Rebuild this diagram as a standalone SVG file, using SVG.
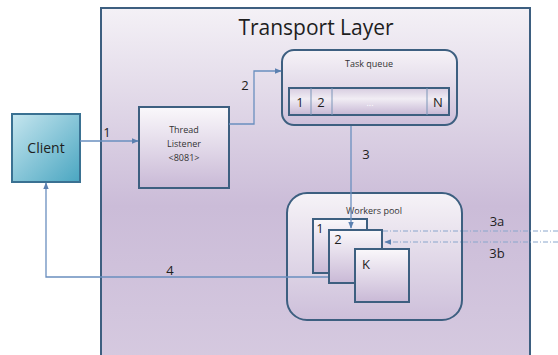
<svg xmlns="http://www.w3.org/2000/svg" width="558" height="355" viewBox="0 0 558 355">
<defs>
  <linearGradient id="gLayer" x1="0" y1="0" x2="0" y2="1">
    <stop offset="0" stop-color="#f4f1f6"/>
    <stop offset="0.55" stop-color="#cbbcd8"/>
    <stop offset="1" stop-color="#d6cae0"/>
  </linearGradient>
  <linearGradient id="gClient" x1="0" y1="0" x2="1" y2="1">
    <stop offset="0" stop-color="#c6e6ef"/>
    <stop offset="1" stop-color="#4aa6c1"/>
  </linearGradient>
  <linearGradient id="gNode" x1="0" y1="0" x2="0" y2="1">
    <stop offset="0" stop-color="#faf8fb"/>
    <stop offset="1" stop-color="#c9b9d6"/>
  </linearGradient>
  <linearGradient id="gPool" x1="0" y1="0" x2="0" y2="1">
    <stop offset="0" stop-color="#f6f3f7"/>
    <stop offset="1" stop-color="#cdbfda"/>
  </linearGradient>
  <linearGradient id="gBar" x1="0" y1="0" x2="0" y2="1">
    <stop offset="0" stop-color="#d7cce0"/>
    <stop offset="0.4" stop-color="#f1edf4"/>
    <stop offset="1" stop-color="#c6b6d4"/>
  </linearGradient>
  <marker id="arr" viewBox="0 0 10 10" refX="9" refY="5" markerWidth="7" markerHeight="7" markerUnits="userSpaceOnUse" orient="auto">
    <path d="M0,1 L10,5 L0,9 z" fill="#5b80b0"/>
  </marker>
  <style>
    .box{stroke:#3d5f80;stroke-width:2;}
    .con{fill:none;stroke:#6a8fbf;stroke-width:1.3;}
    .dash{fill:none;stroke:#8aa6cc;stroke-width:1;stroke-dasharray:5 2 1 2;}
    text{font-family:"Open Sans","Liberation Sans",sans-serif;fill:#1e1e1e;}
    .lbl{font-size:13px;}
    .small{font-size:9px;fill:#333;}
  </style>
</defs>

<g id="transport-layer">
  <rect class="box" x="101" y="8" width="429" height="360" fill="url(#gLayer)"/>
  <text x="316" y="35" font-size="21" text-anchor="middle">Transport Layer</text>
</g>

<g id="client">
  <rect x="12" y="114" width="68" height="68" fill="url(#gClient)" stroke="#3a7192" stroke-width="2"/>
  <text x="46" y="153" font-size="14" text-anchor="middle">Client</text>
</g>

<g id="thread-listener">
  <rect class="box" x="139" y="107" width="90" height="81" fill="url(#gNode)"/>
  <text class="small" x="184" y="133" text-anchor="middle">Thread</text>
  <text class="small" x="184" y="147" text-anchor="middle">Listener</text>
  <text class="small" x="184" y="161" text-anchor="middle">&lt;8081&gt;</text>
</g>

<g id="task-queue">
  <rect class="box" x="282" y="50" width="175" height="75" rx="12" fill="url(#gPool)"/>
  <text class="small" x="369" y="67" text-anchor="middle">Task queue</text>
  <rect class="box" x="289" y="88" width="160" height="27" fill="url(#gBar)"/>
  <line x1="311" y1="88" x2="311" y2="115" stroke="#7a95b8" stroke-width="1"/>
  <line x1="332" y1="88" x2="332" y2="115" stroke="#7a95b8" stroke-width="1"/>
  <line x1="427" y1="88" x2="427" y2="115" stroke="#7a95b8" stroke-width="1"/>
  <text class="lbl" x="300" y="107" text-anchor="middle">1</text>
  <text class="lbl" x="321" y="107" text-anchor="middle">2</text>
  <text x="370" y="106" font-size="9" text-anchor="middle" style="fill:#ffffff">...</text>
  <text class="lbl" x="438" y="107" text-anchor="middle">N</text>
</g>

<g id="workers-pool">
  <rect class="box" x="287" y="193" width="175" height="127" rx="20" fill="url(#gPool)"/>
  <text class="small" x="374" y="214" text-anchor="middle">Workers pool</text>
</g>

<g id="worker-1">
  <rect class="box" x="313" y="219" width="54" height="54" fill="url(#gNode)"/>
  <text class="lbl" x="320" y="233" text-anchor="middle">1</text>
</g>
<g id="worker-2">
  <rect class="box" x="329" y="230" width="53" height="53" fill="url(#gNode)"/>
  <text class="lbl" x="338" y="244" text-anchor="middle">2</text>
</g>
<g id="worker-k">
  <rect class="box" x="355" y="249" width="54" height="53" fill="url(#gNode)"/>
  <text class="lbl" x="366" y="269" text-anchor="middle">K</text>
</g>

<g id="connectors">
  <line class="con" x1="80" y1="141" x2="138" y2="141" marker-end="url(#arr)"/>
  <polyline class="con" points="229,124 254,124 254,71 281,71" marker-end="url(#arr)"/>
  <line class="con" x1="351" y1="126" x2="351" y2="228" marker-end="url(#arr)"/>
  <polyline class="con" points="328,277 46,277 46,183" marker-end="url(#arr)"/>
  <line class="dash" x1="383" y1="231" x2="558" y2="231"/>
  <line class="dash" x1="558" y1="242" x2="385" y2="242" marker-end="url(#arr)"/>
  <text class="lbl" x="107" y="137" text-anchor="middle">1</text>
  <text class="lbl" x="245" y="90" text-anchor="middle">2</text>
  <text class="lbl" x="366" y="159" text-anchor="middle">3</text>
  <text class="lbl" x="170" y="275" text-anchor="middle">4</text>
  <text class="lbl" x="497" y="226" text-anchor="middle">3a</text>
  <text class="lbl" x="497" y="258" text-anchor="middle">3b</text>
</g>
</svg>
